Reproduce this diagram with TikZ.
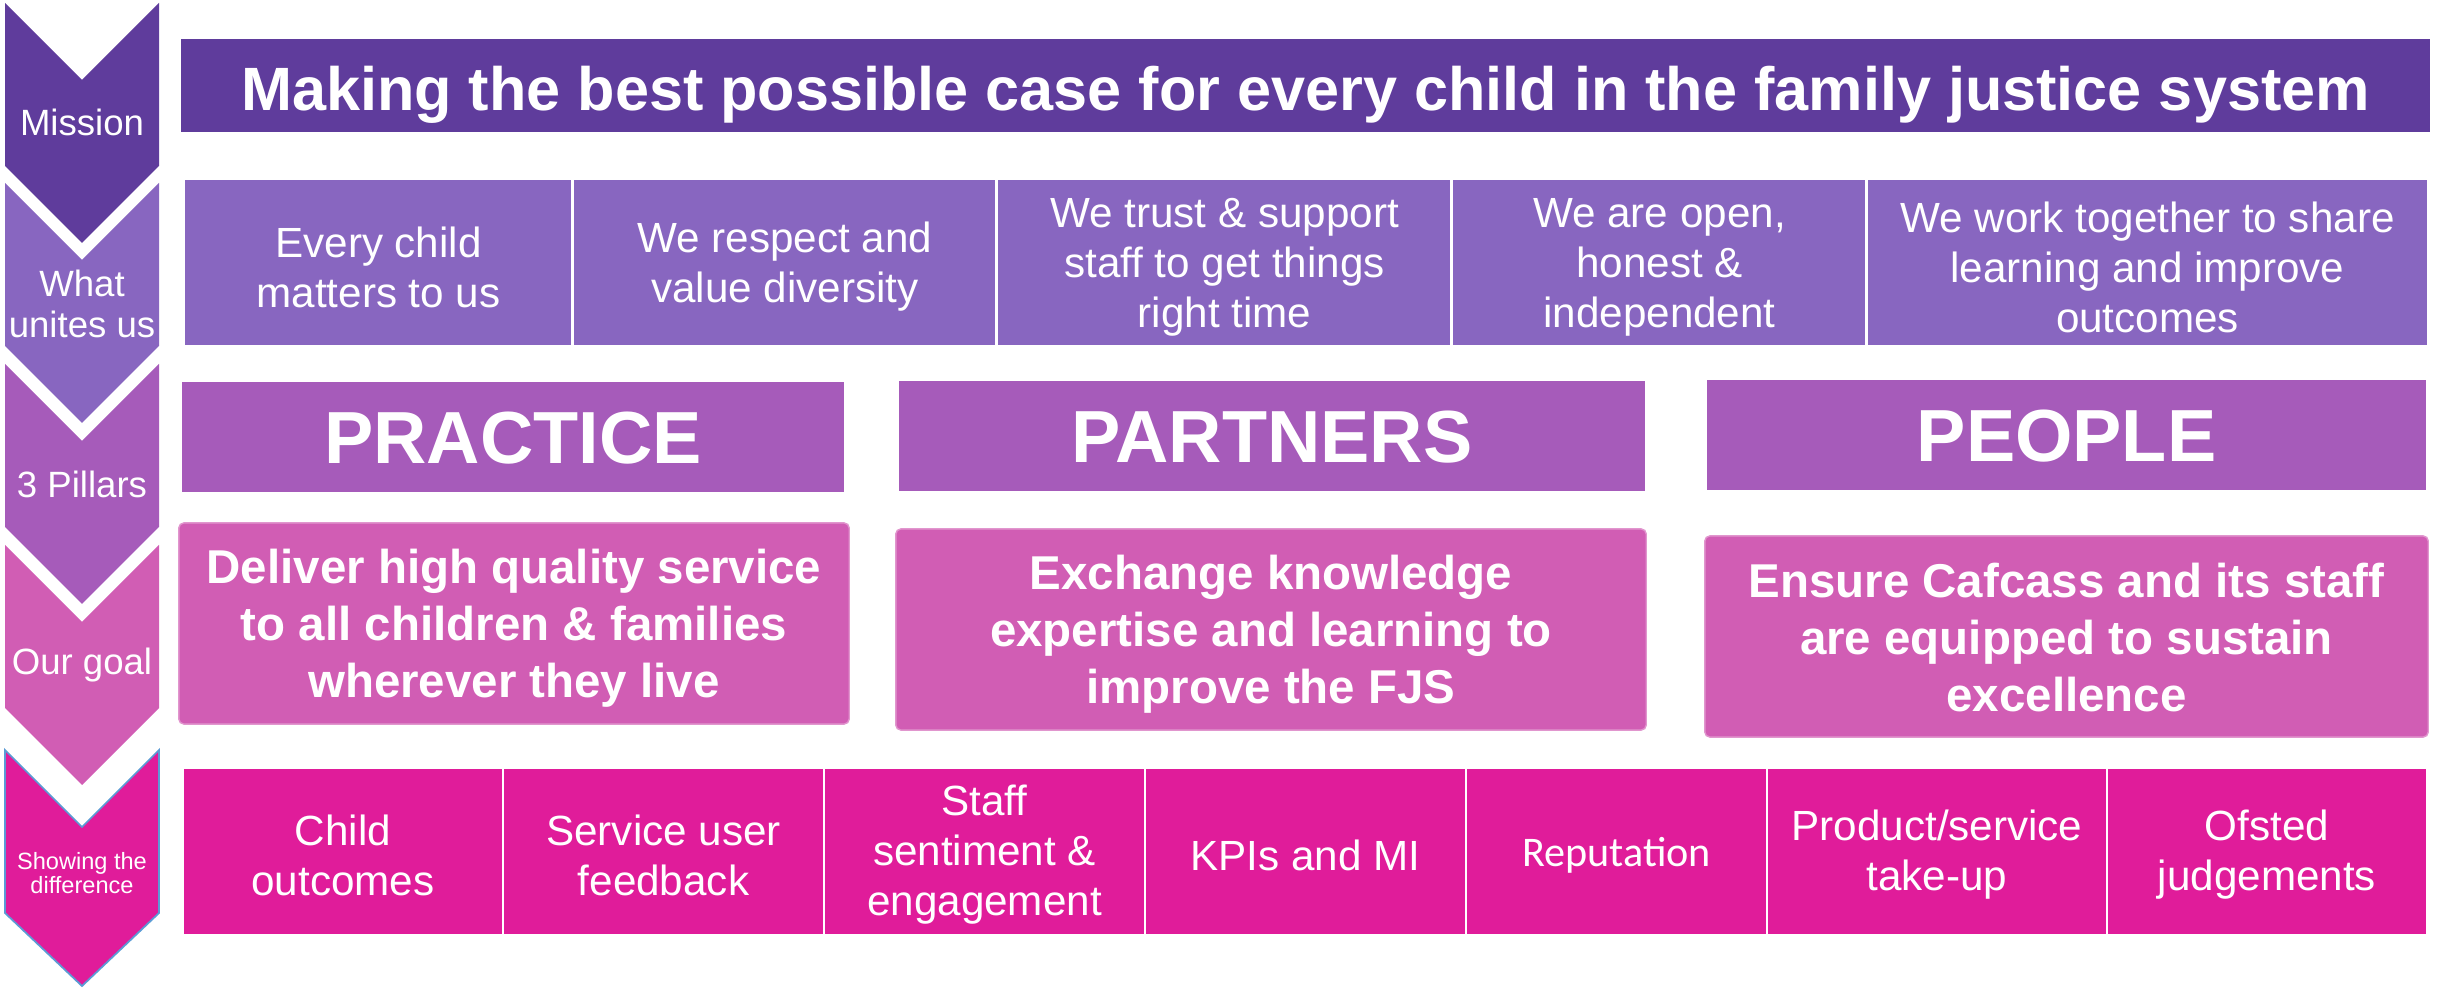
\documentclass[tikz,border=0pt]{standalone}
\usepackage{fontspec}
\setmainfont{Liberation Sans}
\newfontfamily\calibrifont{Carlito}
\usepackage{xcolor}

\definecolor{missionpurple}{HTML}{5F3C9C}
\definecolor{unitespurple}{HTML}{8866C0}
\definecolor{pillarpurple}{HTML}{A65BBA}
\definecolor{goalpink}{HTML}{D15DB4}
\definecolor{diffmagenta}{HTML}{E01C9A}
\definecolor{edgeblue}{HTML}{5B9BD5}

\begin{document}
\begin{tikzpicture}[x=0.01cm, y=-0.01cm]
        % ================= 样式定义 =================
        \tikzset{
            % 左侧箭头中的白字
            chevlabel/.style={text=white, align=center, inner sep=0pt, font=\fontsize{10.4pt}{11.7pt}\selectfont},
            % 顶部使命横幅
            banner/.style={fill=missionpurple, text=white, inner sep=0pt, minimum width=22.47cm, minimum height=0.93cm,
                text height=14.2pt, text depth=0pt, font=\bfseries\fontsize{17.4pt}{20pt}\selectfont},
            % 价值观 / 指标的格子 (白色分隔线)
            cell/.style={draw=white, line width=0.8pt, text=white, align=center, inner sep=0pt, minimum height=1.67cm,
                font=\fontsize{12pt}{14.2pt}\selectfont},
            % 三大支柱
            pillar/.style={fill=pillarpurple, text=white, inner sep=0pt, minimum height=1.1cm,
                text height=15.1pt, text depth=0pt, font=\bfseries\fontsize{21pt}{24pt}\selectfont},
            % 目标 (圆角)
            goalbox/.style={fill=goalpink, draw=goalpink!65!white, line width=0.4pt, rounded corners=0.05cm,
                text=white, align=center, inner sep=0pt, minimum height=2.01cm,
                font=\bfseries\fontsize{13.5pt}{16.2pt}\selectfont}
        }
        \useasboundingbox (0,0) rectangle (2440,989);

        % ================= 左侧箭头 =================
        \foreach \ty/\col in {3/missionpurple, 183/unitespurple, 364/pillarpurple, 545/goalpink} {
            \fill[\col] (5,\ty) -- (82,\ty+77) -- (159,\ty) -- (159,\ty+163) -- (82,\ty+240) -- (5,\ty+163) -- cycle;
        }
        % 最后一个带蓝色细边
        \filldraw[fill=diffmagenta, draw=edgeblue, line width=0.5pt]
            (5,750) -- (82,827) -- (159,750) -- (159,913) -- (82,986) -- (5,913) -- cycle;

        \node[chevlabel] (mission) at (82,122) {Mission};
        \node[chevlabel] (unites) at (82,304) {What\\unites us};
        \node[chevlabel] (pillars) at (82,484) {3 Pillars};
        \node[chevlabel] (ourgoal) at (82,665) {Our goal};
        \node[chevlabel, font=\fontsize{6.7pt}{6.9pt}\selectfont] (showing) at (82,873) {Showing the\\difference};

        % ================= 使命 =================
        \node[banner] (missionbanner) at (1305.5,85.5) {Making the best possible case for every child in the family justice system};

        % ================= 价值观一行 =================
        \foreach \xa/\xb/\txt [count=\i] in {184/573/{Every child\\matters to us},
                573/997/{We respect and\\value diversity},
                997/1452/{We trust \& support\\staff to get things\\right time},
                1452/1867/{We are open,\\honest \&\\independent},
                1867/2428/{We work together to share\\learning and improve\\outcomes}} {
            \pgfmathsetmacro{\w}{(\xb-\xa)/100}
            \node[cell, fill=unitespurple, minimum width=\w cm] (value\i) at ({(\xa+\xb)/2},262.5) {};
            \node[text=white, align=center, inner sep=0pt, font=\fontsize{12pt}{14.2pt}\selectfont]
                (valuetext\i) at ({(\xa+\xb)/2},267) {\txt};
        }

        % ================= 三大支柱 =================
        \node[pillar, minimum width=6.62cm] (practice) at (513,437) {PRACTICE};
        \node[pillar, minimum width=7.46cm] (partners) at (1272,436) {PARTNERS};
        \node[pillar, minimum width=7.19cm] (people) at (2066.5,435) {PEOPLE};

        % ================= 目标 =================
        \node[goalbox, minimum width=6.70cm] (practicegoal) at (514,623.5) {};
        \node[goalbox, minimum width=7.50cm] (partnersgoal) at (1271,629.5) {};
        \node[goalbox, minimum width=7.23cm] (peoplegoal) at (2066.5,636.5) {};
        \node[goalbox, fill=none, draw=none, minimum height=0pt] (practicetext) at (514,628)
            {Deliver high quality service\\to all children \& families\\wherever they live};
        \node[goalbox, fill=none, draw=none, minimum height=0pt] (partnerstext) at (1271,634)
            {Exchange knowledge\\expertise and learning to\\improve the FJS};
        \node[goalbox, fill=none, draw=none, minimum height=0pt] (peopletext) at (2066.5,638)
            {Ensure Cafcass and its staff\\are equipped to sustain\\excellence};

        % ================= 衡量指标一行 =================
        \foreach \xa/\xb/\txt [count=\i] in {183/503/{Child\\outcomes},
                503/824/{Service user\\feedback},
                824/1145/{Staff\\sentiment \&\\engagement},
                1145/1466/{KPIs and MI},
                1466/1767/{{\calibrifont\fontsize{12pt}{14pt}\selectfont Reputation}},
                1767/2107/{Product/service\\take-up},
                2107/2427/{Ofsted\\judgements}} {
            \pgfmathsetmacro{\w}{(\xb-\xa)/100}
            \node[cell, fill=diffmagenta, minimum width=\w cm] (measure\i) at ({(\xa+\xb)/2},851.5) {};
            \node[text=white, align=center, inner sep=0pt, font=\fontsize{12pt}{14.2pt}\selectfont]
                (measuretext\i) at ({(\xa+\xb)/2},855) {\txt};
        }

\end{tikzpicture}
\end{document}
